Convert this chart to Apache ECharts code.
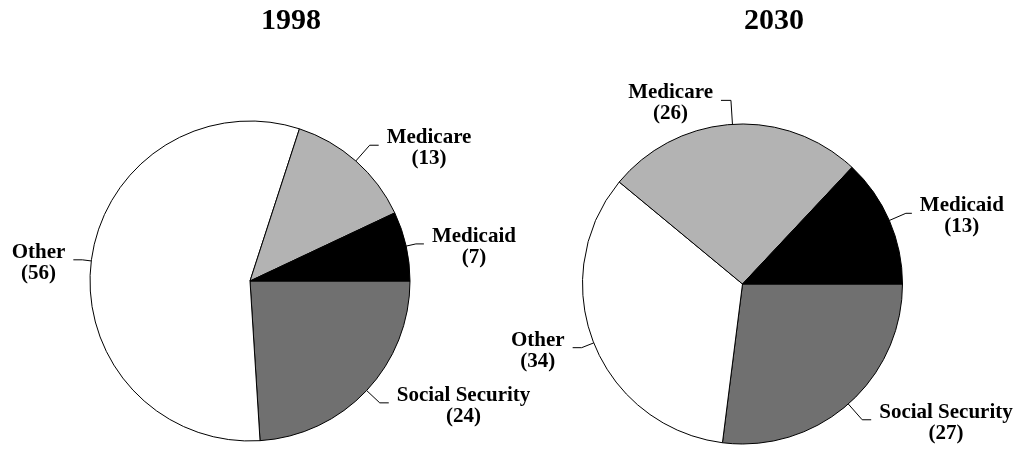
<!DOCTYPE html>
<html>
<head>
<meta charset="utf-8">
<script src="https://cdn.jsdelivr.net/npm/echarts@6/dist/echarts.min.js"></script>
<style>
  html, body { margin: 0; padding: 0; background: #fff; }
  #chart { width: 1018px; height: 449px; }
</style>
</head>
<body>
<div id="chart"></div>
<script>
// Shares of federal outlays (percent), ordered clockwise from 3 o'clock
const categories = ['Social Security', 'Other', 'Medicare', 'Medicaid'];
const shares1998 = [24, 56, 13, 7];
const shares2030 = [27, 34, 26, 13];
const years = ['1998', '2030'];

// Fill colour for each category
const sliceColors = ['#707070', '#ffffff', '#b3b3b3', '#000000'];

// Leader-line lengths [radial, horizontal] for each category's label
const leaders1998 = [[18, 9], [9, 9], [21, 9], [10, 8]];
const leaders2030 = [[21, 9], [13, 9], [24, 10], [18, 6]];

const FONT = '"Liberation Serif", "Times New Roman", serif';

function buildData(values, leaders) {
  return categories.map((name, i) => ({
    name: name,
    value: values[i],
    itemStyle: { color: sliceColors[i] },
    labelLine: { length: leaders[i][0], length2: leaders[i][1] }
  }));
}

function pieSeries(values, leaders, center) {
  return {
    type: 'pie',
    center: center,
    radius: 160,
    startAngle: 0,
    clockwise: true,
    avoidLabelOverlap: false,
    silent: true,
    emphasis: { disabled: true },
    itemStyle: { borderColor: '#000', borderWidth: 1 },
    label: {
      show: true,
      position: 'outside',
      distanceToLabelLine: 8,
      bleedMargin: 0,
      padding: [6, 0, 0, 0],
      color: '#000',
      fontFamily: FONT,
      fontWeight: 'bold',
      fontSize: 21,
      lineHeight: 21,
      formatter: p => '{a|' + p.name + '}\n{a|(' + p.value + ')}',
      rich: {
        a: {
          align: 'center',
          color: '#000',
          fontFamily: FONT,
          fontWeight: 'bold',
          fontSize: 21,
          lineHeight: 21
        }
      }
    },
    labelLine: {
      show: true,
      smooth: false,
      lineStyle: { color: '#000', width: 1 }
    },
    data: buildData(values, leaders)
  };
}

const titleStyle = {
  fontFamily: FONT,
  fontWeight: 'bold',
  fontSize: 30,
  color: '#000'
};

const chart = echarts.init(document.getElementById('chart'), null, { renderer: 'canvas' });
chart.setOption({
  animation: false,
  backgroundColor: '#fff',
  title: [
    { text: years[0], left: 286, top: 1, textAlign: 'center', textStyle: titleStyle },
    { text: years[1], left: 769, top: 1, textAlign: 'center', textStyle: titleStyle }
  ],
  series: [
    pieSeries(shares1998, leaders1998, [250, 281]),
    pieSeries(shares2030, leaders2030, [742.5, 284])
  ]
});
</script>
</body>
</html>
